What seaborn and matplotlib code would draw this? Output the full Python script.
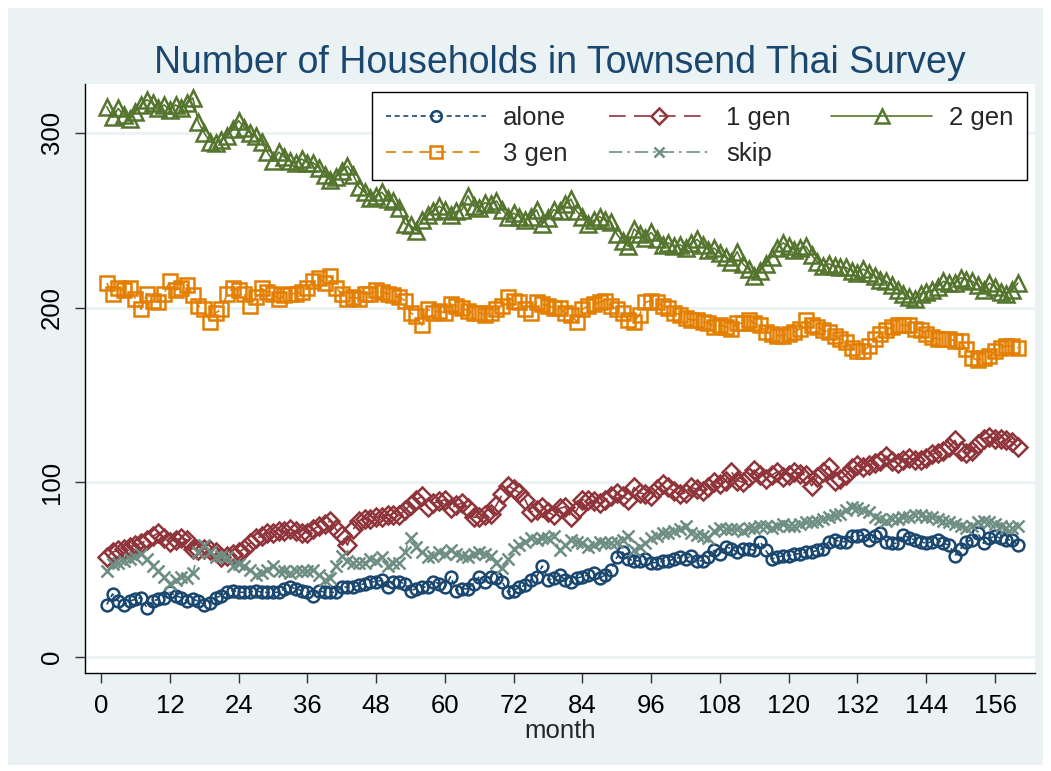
import matplotlib
matplotlib.use("Agg")
import matplotlib.pyplot as plt
from matplotlib.patches import Rectangle
import seaborn as sns

# Monthly household counts by household type
months = list(range(1, 161))

alone = [30, 36, 32, 30, 32, 33, 34, 28, 32, 33, 34, 37, 35, 34, 32, 33, 32, 30, 31, 34,
         35, 37, 38, 37, 37, 37, 38, 37, 37, 37, 37, 39, 40, 39, 38, 37, 35, 38, 37, 37,
         37, 40, 40, 40, 41, 42, 43, 43, 44, 40, 43, 43, 42, 38, 39, 40, 40, 43, 42, 40,
         46, 38, 39, 39, 42, 46, 43, 46, 45, 43, 37, 38, 40, 41, 44, 46, 52, 44, 45, 47,
         44, 43, 45, 46, 47, 48, 45, 47, 50, 57, 60, 56, 55, 55, 56, 54, 54, 55, 55, 56,
         57, 56, 58, 55, 55, 57, 61, 59, 63, 62, 60, 62, 62, 61, 66, 61, 56, 57, 58, 58,
         59, 59, 60, 60, 61, 62, 66, 67, 66, 66, 69, 69, 70, 67, 69, 71, 66, 65, 65, 70,
         68, 67, 66, 65, 66, 67, 65, 64, 58, 62, 66, 67, 71, 65, 68, 69, 68, 67, 67, 64]

one_gen = [57, 60, 61, 62, 63, 64, 65, 67, 69, 71, 68, 66, 67, 68, 67, 62, 61, 62, 61, 60,
           57, 58, 59, 60, 62, 65, 68, 69, 71, 71, 72, 72, 73, 72, 71, 71, 73, 75, 76, 78,
           73, 70, 64, 73, 78, 79, 79, 80, 80, 81, 81, 81, 84, 87, 90, 92, 86, 88, 89, 90,
           85, 87, 88, 85, 80, 80, 81, 82, 87, 93, 98, 96, 94, 90, 83, 84, 86, 83, 81, 85,
           86, 80, 84, 90, 90, 89, 88, 90, 92, 94, 92, 90, 97, 94, 93, 92, 96, 99, 97, 95,
           93, 94, 97, 96, 95, 97, 100, 99, 101, 106, 101, 100, 103, 107, 104, 102, 104, 106, 103, 104,
           106, 105, 104, 98, 103, 106, 109, 101, 102, 104, 108, 110, 109, 110, 111, 112, 115, 112, 111, 113,
           114, 113, 113, 114, 116, 117, 118, 120, 124, 118, 117, 118, 122, 125, 126, 125, 125, 124, 123, 120]

two_gen = [315, 309, 314, 310, 308, 312, 316, 319, 317, 314, 316, 313, 316, 314, 317, 320, 306, 300, 295, 294,
           296, 298, 302, 307, 303, 300, 298, 295, 289, 284, 289, 286, 284, 283, 285, 283, 283, 280, 276, 273,
           275, 278, 281, 276, 269, 266, 263, 264, 266, 262, 261, 257, 248, 247, 244, 250, 253, 255, 258, 256,
           253, 255, 256, 264, 258, 257, 260, 259, 261, 256, 252, 254, 252, 250, 252, 256, 248, 251, 256, 255,
           259, 262, 255, 252, 248, 250, 252, 250, 249, 242, 238, 235, 245, 242, 240, 243, 239, 236, 237, 235,
           236, 234, 237, 239, 236, 233, 234, 231, 229, 226, 232, 225, 222, 218, 221, 225, 229, 234, 237, 235,
           233, 234, 235, 230, 226, 224, 225, 224, 223, 223, 221, 220, 222, 220, 218, 216, 215, 213, 210, 208,
           206, 205, 208, 209, 210, 212, 215, 214, 214, 217, 216, 215, 213, 210, 214, 212, 209, 208, 210, 214]

three_gen = [214, 208, 211, 210, 211, 205, 199, 208, 204, 203, 208, 215, 210, 211, 213, 207, 201, 199, 192, 197,
             199, 208, 211, 210, 208, 201, 206, 211, 209, 208, 205, 207, 208, 208, 209, 211, 215, 217, 214, 218,
             211, 208, 205, 206, 205, 208, 208, 210, 209, 208, 207, 206, 204, 197, 195, 190, 199, 197, 198, 197,
             202, 201, 200, 198, 197, 197, 196, 197, 199, 201, 206, 204, 203, 199, 197, 203, 202, 201, 200, 200,
             197, 196, 192, 199, 201, 202, 203, 204, 201, 199, 197, 193, 192, 196, 203, 204, 203, 201, 200, 197,
             196, 194, 193, 193, 192, 191, 189, 190, 189, 188, 191, 191, 193, 191, 190, 186, 185, 184, 184, 185,
             186, 188, 193, 190, 189, 187, 186, 184, 182, 180, 177, 175, 175, 178, 182, 185, 187, 189, 190, 190,
             190, 188, 187, 185, 183, 182, 182, 182, 181, 181, 176, 171, 170, 171, 172, 175, 177, 178, 178, 177]

skip = [49, 53, 54, 55, 56, 57, 59, 56, 52, 49, 46, 42, 44, 46, 45, 48, 60, 64, 60, 57,
        58, 57, 52, 53, 52, 50, 47, 48, 50, 52, 49, 49, 48, 49, 49, 49, 50, 47, 44, 45,
        52, 58, 55, 54, 54, 54, 56, 55, 57, 52, 54, 54, 60, 68, 63, 60, 57, 58, 60, 59,
        61, 59, 58, 57, 59, 60, 59, 58, 54, 51, 56, 62, 64, 66, 68, 67, 68, 68, 69, 61,
        64, 67, 66, 65, 63, 64, 66, 65, 65, 66, 67, 69, 61, 63, 65, 68, 69, 71, 71, 72,
        73, 75, 71, 70, 69, 68, 72, 74, 73, 73, 73, 72, 74, 74, 75, 75, 74, 75, 76, 75,
        75, 76, 77, 77, 78, 79, 80, 81, 82, 84, 86, 85, 84, 83, 80, 79, 78, 79, 79, 80,
        80, 81, 81, 80, 80, 79, 78, 77, 76, 75, 74, 75, 77, 78, 77, 76, 75, 74, 74, 75]

# Stata s2color look
bg_color = "#EAF2F3"
title_color = "#1A476F"

sns.set_style("white")
plt.rcParams["font.family"] = ["Liberation Sans", "DejaVu Sans"]

fig = plt.figure(figsize=(10.51, 7.71), dpi=100, facecolor="white")
fig.add_artist(Rectangle((0.0076, 0.0078), 0.985, 0.982, transform=fig.transFigure,
                         facecolor=bg_color, edgecolor="none", zorder=-1))
ax = fig.add_axes([0.0809, 0.1271, 0.904, 0.764])
ax.set_facecolor("white")

# label, values, color, marker, linestyle, markersize
series = [
    ("alone", alone, "#1A476F", "o", (0, (3, 2.2)), 8.5),
    ("1 gen", one_gen, "#90353B", "D", (0, (10, 5)), 9),
    ("2 gen", two_gen, "#55752F", "^", "-", 11),
    ("3 gen", three_gen, "#E37E00", "s", (0, (6, 4)), 9.5),
    ("skip", skip, "#6E8E84", "x", (0, (8, 3, 1.5, 3)), 8),
]

for label, vals, color, marker, ls, ms in series:
    sns.lineplot(x=months, y=vals, ax=ax, color=color, marker=marker, markersize=ms,
                 markerfacecolor="none", markeredgecolor=color, markeredgewidth=1.8,
                 linestyle=ls, linewidth=1.2, label=label, errorbar=None)

# Legend filled row by row: alone, 1 gen, 2 gen / 3 gen, skip
handles, labels = ax.get_legend_handles_labels()
order = [0, 3, 1, 4, 2]
leg = ax.legend([handles[i] for i in order], [labels[i] for i in order], ncol=3,
                loc="upper right", bbox_to_anchor=(0.9916, 0.986), borderaxespad=0,
                fontsize=18.5, frameon=True, fancybox=False, edgecolor="black",
                framealpha=1, handlelength=3.9, handletextpad=0.66, columnspacing=1.6,
                borderpad=0.55, labelspacing=0.45, markerscale=0.9)
leg.get_frame().set_linewidth(1.0)

ax.set_xlim(-2.8, 163)
ax.set_ylim(-9.2, 328)
ax.set_xticks(range(0, 157, 12))
ax.set_yticks([0, 100, 200, 300])
ax.yaxis.grid(True, color=bg_color, linewidth=2)
ax.xaxis.grid(False)
ax.set_axisbelow(True)

sns.despine(ax=ax)
for side in ["left", "bottom"]:
    ax.spines[side].set_color("black")
    ax.spines[side].set_linewidth(1.0)

ax.tick_params(axis="both", which="major", bottom=True, left=True, direction="out",
               length=7, width=1, color="#333333", labelsize=18.5, labelcolor="black")
ax.tick_params(axis="x", pad=8)
ax.tick_params(axis="y", labelrotation=90, pad=8)
for lab in ax.get_yticklabels():
    lab.set_va("center")

ax.set_xlabel("month", fontsize=18.5, labelpad=1)
ax.set_ylabel("")

fig.text(0.5328, 0.918, "Number of Households in Townsend Thai Survey",
         ha="center", va="center", fontsize=27, color=title_color)

fig.savefig("out.png", dpi=100, facecolor="white")
